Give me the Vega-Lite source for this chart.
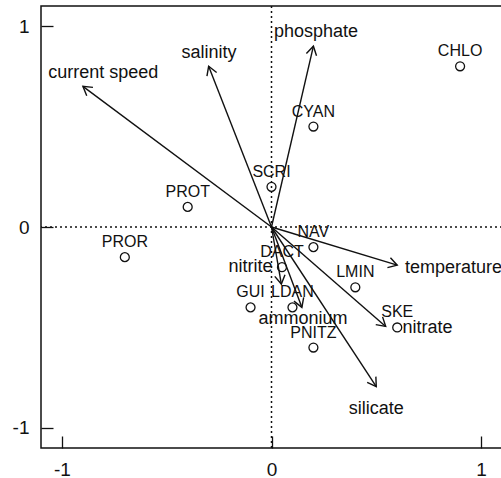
{
  "$schema": "https://vega.github.io/schema/vega-lite/v6.json",
  "width": 461,
  "height": 442,
  "autosize": "none",
  "padding": {"left": 41, "top": 6, "right": 0, "bottom": 30},
  "background": "white",
  "config": {
    "view": {"stroke": "#111", "strokeWidth": 1.5},
    "font": "Liberation Sans",
    "axis": {
      "domain": false,
      "grid": false,
      "title": null,
      "tickColor": "#111",
      "tickSize": -12,
      "tickWidth": 1.3,
      "labelFontSize": 19,
      "labelColor": "#111",
      "labelFont": "Liberation Sans",
      "labelExpr": "'' + datum.value"
    }
  },
  "datasets": {
    "env": [
      {"name": "current speed", "x": -0.9, "y": 0.7, "lx": -0.803, "ly": 0.766},
      {"name": "salinity", "x": -0.3, "y": 0.8, "lx": -0.298, "ly": 0.866},
      {"name": "phosphate", "x": 0.2, "y": 0.9, "lx": 0.212, "ly": 0.969},
      {"name": "temperature", "x": 0.6, "y": -0.19, "lx": 0.869, "ly": -0.204},
      {"name": "nitrate", "x": 0.545, "y": -0.495, "lx": 0.745, "ly": -0.502},
      {"name": "silicate", "x": 0.5, "y": -0.795, "lx": 0.5, "ly": -0.905},
      {"name": "nitrite", "x": 0.047, "y": -0.284, "lx": -0.1, "ly": -0.2},
      {"name": "ammonium", "x": 0.145, "y": -0.4, "lx": 0.15, "ly": -0.458}
    ],
    "species": [
      {"name": "CHLO", "x": 0.9, "y": 0.8},
      {"name": "CYAN", "x": 0.2, "y": 0.5},
      {"name": "SCRI", "x": 0.0, "y": 0.2},
      {"name": "PROT", "x": -0.4, "y": 0.1},
      {"name": "PROR", "x": -0.7, "y": -0.15},
      {"name": "NAV", "x": 0.2, "y": -0.1},
      {"name": "DACT", "x": 0.05, "y": -0.2},
      {"name": "LMIN", "x": 0.4, "y": -0.3},
      {"name": "GUI", "x": -0.1, "y": -0.4},
      {"name": "LDAN", "x": 0.1, "y": -0.4},
      {"name": "SKE", "x": 0.6, "y": -0.5},
      {"name": "PNITZ", "x": 0.2, "y": -0.6}
    ]
  },
  "layer": [
    {
      "data": {"values": [{"v": 0}]},
      "mark": {"type": "rule", "strokeDash": [2, 3], "strokeWidth": 1.5, "color": "#111"},
      "encoding": {
        "x": {"field": "v", "type": "quantitative", "scale": {"domain": [-1.1, 1.1], "nice": false, "zero": false},
              "axis": {"values": [-1, 0, 1], "labelPadding": 24}}
      }
    },
    {
      "data": {"values": [{"v": 0}]},
      "mark": {"type": "rule", "strokeDash": [2, 3], "strokeWidth": 1.5, "color": "#111"},
      "encoding": {
        "y": {"field": "v", "type": "quantitative", "scale": {"domain": [-1.1, 1.1], "nice": false, "zero": false},
              "axis": {"values": [-1, 0, 1], "labelPadding": 24}}
      }
    },
    {
      "data": {"name": "env"},
      "mark": {"type": "rule", "strokeWidth": 1.4, "color": "#111"},
      "encoding": {
        "x": {"field": "x", "type": "quantitative"},
        "y": {"field": "y", "type": "quantitative"},
        "x2": {"datum": 0},
        "y2": {"datum": 0}
      }
    },
    {
      "data": {"name": "env"},
      "transform": [
        {"calculate": "atan2(-datum.y * 200.9, datum.x * 209.5) * 180 / PI", "as": "ang"}
      ],
      "mark": {"type": "point", "shape": "M -1 -0.6 L 0 0 L -1 0.6", "filled": false, "size": 300, "strokeWidth": 1.4, "color": "#111", "opacity": 1},
      "encoding": {
        "x": {"field": "x", "type": "quantitative"},
        "y": {"field": "y", "type": "quantitative"},
        "angle": {"field": "ang", "type": "quantitative", "scale": null}
      }
    },
    {
      "data": {"name": "env"},
      "mark": {"type": "text", "fontSize": 18, "color": "#111", "baseline": "middle", "align": "center"},
      "encoding": {
        "x": {"field": "lx", "type": "quantitative"},
        "y": {"field": "ly", "type": "quantitative"},
        "text": {"field": "name"}
      }
    },
    {
      "data": {"name": "species"},
      "mark": {"type": "point", "shape": "circle", "filled": false, "size": 80, "strokeWidth": 1.3, "color": "#111", "opacity": 1},
      "encoding": {
        "x": {"field": "x", "type": "quantitative"},
        "y": {"field": "y", "type": "quantitative"}
      }
    },
    {
      "data": {"name": "species"},
      "mark": {"type": "text", "fontSize": 16, "color": "#111", "baseline": "middle", "align": "center", "dy": -15},
      "encoding": {
        "x": {"field": "x", "type": "quantitative"},
        "y": {"field": "y", "type": "quantitative"},
        "text": {"field": "name"}
      }
    }
  ]
}
